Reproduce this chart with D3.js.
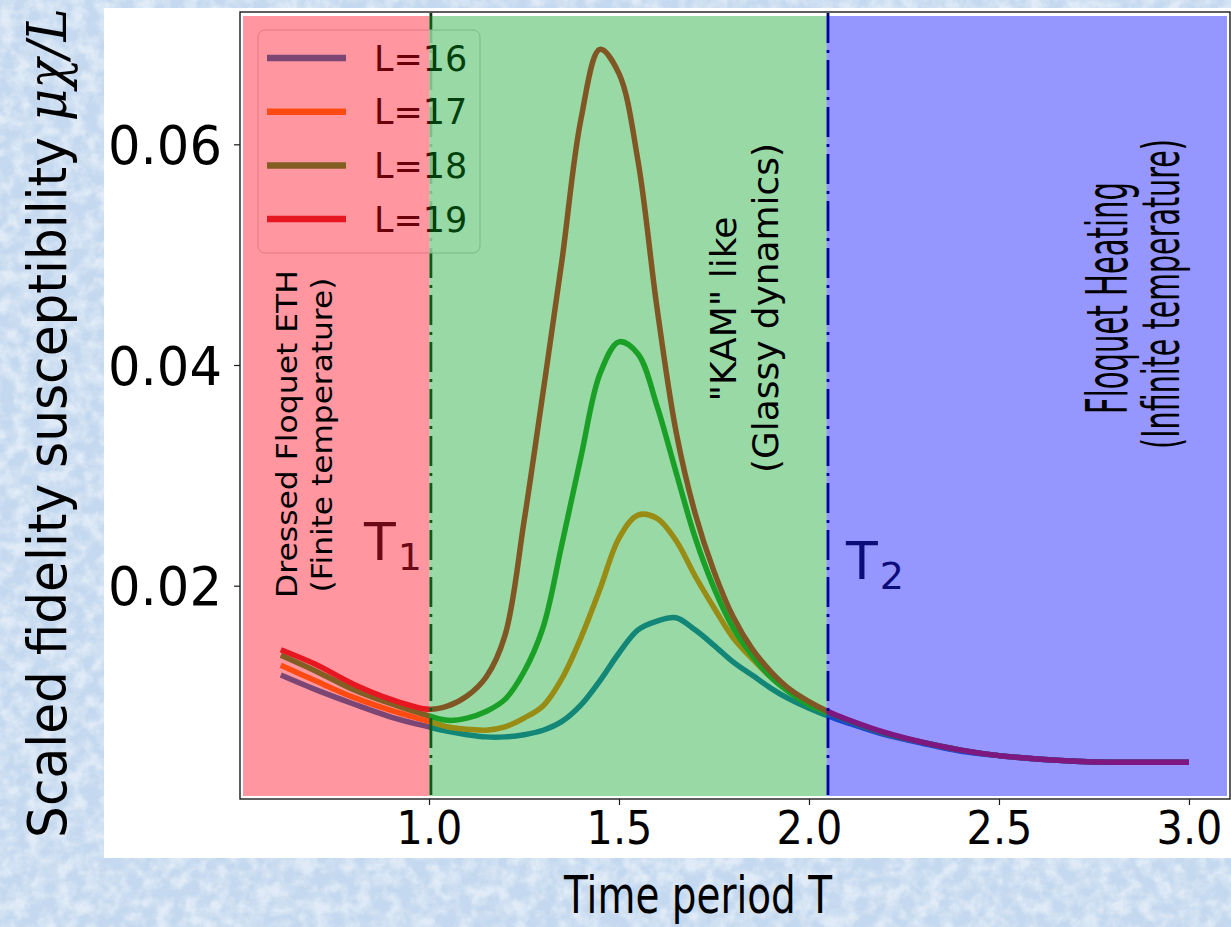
<!DOCTYPE html>
<html>
<head>
<meta charset="utf-8">
<script src="https://cdn.jsdelivr.net/npm/d3@7"></script>
<style>
  html, body { margin: 0; padding: 0; background: #cfe0f3; }
  svg { display: block; }
</style>
</head>
<body>
<svg id="chart" width="1231" height="927"></svg>
<script>
// ---- data -------------------------------------------------------------
const periods = [0.61, 0.7, 0.8, 0.9, 1.0, 1.05, 1.1, 1.15, 1.2, 1.25, 1.3, 1.35, 1.4, 1.45,
                 1.5, 1.55, 1.6, 1.65, 1.7, 1.75, 1.8, 1.85, 1.9, 1.95, 2.0, 2.05, 2.1,
                 2.2, 2.3, 2.4, 2.5, 2.6, 2.7, 2.8, 2.9, 3.0];

const chiL16 = [0.0119, 0.0106, 0.0093, 0.0081, 0.0072, 0.0068, 0.0065, 0.0063, 0.0063, 0.0065,
                0.0069, 0.0077, 0.0092, 0.0114, 0.0139, 0.0160, 0.0168, 0.0171, 0.0160, 0.0146,
                0.0131, 0.0119, 0.0107, 0.0097, 0.0089, 0.0082, 0.0076, 0.0065, 0.0057, 0.0050,
                0.0046, 0.0043, 0.0041, 0.0040, 0.0040, 0.0040];
const chiL17 = [0.0128, 0.0114, 0.0099, 0.0087, 0.0077, 0.0072, 0.0070, 0.0069, 0.0072, 0.0080,
                0.0091, 0.0116, 0.0153, 0.0197, 0.0243, 0.0264, 0.0261, 0.0241, 0.0209, 0.0180,
                0.0153, 0.0134, 0.0117, 0.0104, 0.0093, 0.0085, 0.0078, 0.0066, 0.0058, 0.0051,
                0.0046, 0.0043, 0.0041, 0.0040, 0.0040, 0.0040];
const chiL18 = [0.0137, 0.0123, 0.0106, 0.0093, 0.0082, 0.0078, 0.0080, 0.0086, 0.0097, 0.0122,
                0.0162, 0.0238, 0.0317, 0.0392, 0.0421, 0.0410, 0.0363, 0.0303, 0.0244, 0.0198,
                0.0162, 0.0137, 0.0117, 0.0103, 0.0092, 0.0085, 0.0078, 0.0066, 0.0058, 0.0051,
                0.0046, 0.0043, 0.0041, 0.0040, 0.0040, 0.0040];
const chiL19 = [0.0142, 0.0129, 0.0111, 0.0097, 0.0088, 0.0091, 0.0100, 0.0117, 0.0155, 0.0258,
                0.0375, 0.0495, 0.0623, 0.0686, 0.0664, 0.0585, 0.0452, 0.0340, 0.0266, 0.0213,
                0.0172, 0.0143, 0.0122, 0.0106, 0.0095, 0.0086, 0.0079, 0.0067, 0.0058, 0.0051,
                0.0046, 0.0043, 0.0041, 0.0040, 0.0040, 0.0040];

const seriesNames  = ["L=16", "L=17", "L=18", "L=19"];
const seriesValues = [chiL16, chiL17, chiL18, chiL19];
const seriesColors = ["#1f77b4", "#ff7f0e", "#2ca02c", "#d62728"];

const xTicks = [1.0, 1.5, 2.0, 2.5, 3.0];
const yTicks = [0.02, 0.04, 0.06];

// crossover periods between the three dynamical regimes
const T1 = 1.005;
const T2 = 2.05;

// ---- layout -----------------------------------------------------------
const W = 1231, H = 927;
const frame = { left: 240, right: 1230, top: 12, bottom: 799 };
const FONT = "DejaVu Sans, Verdana, sans-serif";

const svg = d3.select("#chart");
const defs = svg.append("defs");

// mottled light-blue slide background
const mottle = defs.append("filter").attr("id", "mottle")
  .attr("x", 0).attr("y", 0).attr("width", "100%").attr("height", "100%");
mottle.append("feTurbulence").attr("type", "fractalNoise")
  .attr("baseFrequency", "0.07").attr("numOctaves", 4).attr("seed", 11);
mottle.append("feColorMatrix").attr("type", "matrix")
  .attr("values", "0 0 0 0 1  0 0 0 0 1  0 0 0 0 1  0 0 0 -2.4 1.55");

svg.append("rect").attr("width", W).attr("height", H).attr("fill", "#c4d8ef");
svg.append("rect").attr("width", W).attr("height", H).attr("filter", "url(#mottle)").attr("opacity", 0.5);

// white figure panel
svg.append("rect").attr("x", 104).attr("y", 8).attr("width", W - 104).attr("height", 850).attr("fill", "#ffffff");

// ---- scales -----------------------------------------------------------
const x = d3.scaleLinear().domain([0.5026, 3.108]).range([frame.left, frame.right]);
const y = d3.scaleLinear().domain([0.00067, 0.07199]).range([frame.bottom, frame.top]);

// ---- curves -----------------------------------------------------------
const line = d3.line()
  .x(d => x(d[0]))
  .y(d => y(d[1]))
  .curve(d3.curveCatmullRom.alpha(0.5));

const plot = svg.append("g");
seriesValues.forEach((vals, i) => {
  plot.append("path")
    .datum(periods.map((t, k) => [t, vals[k]]))
    .attr("d", line)
    .attr("fill", "none")
    .attr("stroke", seriesColors[i])
    .attr("stroke-width", 5.5)
    .attr("stroke-linejoin", "round");
});

// ---- crossover markers (dash-dot) ------------------------------------
[[T1, "#0b3512"], [T2, "#00006a"]].forEach(([t, c]) => {
  plot.append("line")
    .attr("x1", x(t)).attr("x2", x(t))
    .attr("y1", frame.top + 1).attr("y2", frame.bottom)
    .attr("stroke", c).attr("stroke-width", 2.8)
    .attr("stroke-dasharray", "30,7,3,7");
});

// ---- legend -----------------------------------------------------------
const legend = svg.append("g").attr("transform", "translate(258,30)");
legend.append("rect")
  .attr("width", 222).attr("height", 223).attr("rx", 7)
  .attr("fill", "#ffffff").attr("fill-opacity", 0.8)
  .attr("stroke", "#cccccc").attr("stroke-width", 1);
seriesNames.forEach((name, i) => {
  const cy = 28 + i * 53.7;
  legend.append("line")
    .attr("x1", 9).attr("x2", 88).attr("y1", cy).attr("y2", cy)
    .attr("stroke", seriesColors[i]).attr("stroke-width", 6.5);
  legend.append("text")
    .attr("x", 116).attr("y", cy + 12.5)
    .attr("font-family", FONT).attr("font-size", 35)
    .attr("fill", "#000").text(name);
});

// ---- translucent regime shading (lies over curves and legend) --------
const inset = 3;
const regions = [
  { from: x.domain()[0], to: T1, color: "rgba(255,0,24,0.41)" },
  { from: T1, to: T2, color: "rgba(0,160,30,0.40)" },
  { from: T2, to: x.domain()[1], color: "rgba(0,0,255,0.41)" }
];
regions.forEach((r, i) => {
  const x0 = i === 0 ? frame.left + inset : x(r.from) - 1.5;
  const x1 = i === regions.length - 1 ? frame.right - inset : x(r.to) - 1.5;
  svg.append("rect")
    .attr("x", x0).attr("y", frame.top + 4)
    .attr("width", x1 - x0).attr("height", frame.bottom - frame.top - 7)
    .attr("fill", r.color);
});

// ---- axes frame and ticks --------------------------------------------
svg.append("rect")
  .attr("x", frame.left).attr("y", frame.top)
  .attr("width", frame.right - frame.left).attr("height", frame.bottom - frame.top)
  .attr("fill", "none").attr("stroke", "#1a1a1a").attr("stroke-width", 1.4);

const xAxis = svg.append("g")
  .attr("transform", `translate(0,${frame.bottom})`)
  .call(d3.axisBottom(x).tickValues(xTicks).tickFormat(d3.format(".1f")).tickSize(6));
xAxis.select(".domain").remove();
xAxis.selectAll(".tick line").attr("stroke", "#1a1a1a").attr("stroke-width", 1.2);
xAxis.selectAll(".tick text")
  .attr("font-family", FONT).attr("font-size", 46).attr("fill", "#000")
  .attr("dy", null).attr("y", 0)
  .each(function () {
    d3.select(this).attr("transform", "translate(0,45) scale(0.9,1)");
  });

const yAxis = svg.append("g")
  .attr("transform", `translate(${frame.left},0)`)
  .call(d3.axisLeft(y).tickValues(yTicks).tickFormat(d3.format(".2f")).tickSize(6));
yAxis.select(".domain").remove();
yAxis.selectAll(".tick line").attr("stroke", "#1a1a1a").attr("stroke-width", 1.2);
yAxis.selectAll(".tick text")
  .attr("font-family", FONT).attr("font-size", 53).attr("fill", "#000")
  .attr("x", 0).attr("dy", null)
  .each(function () {
    const w = this.getComputedTextLength();
    d3.select(this).attr("transform", `translate(-18,${0.364 * 53}) scale(${114 / w},1)`);
  });

// ---- text helper: anchored, optionally rotated, stretched to a length --
function label(opts) {
  const g = svg.append("g")
    .attr("transform", `translate(${opts.x},${opts.y}) rotate(${opts.rotate || 0})`);
  const t = g.append("text")
    .attr("text-anchor", opts.anchor || "middle")
    .attr("font-family", opts.family || FONT)
    .attr("font-size", opts.size)
    .attr("fill", opts.fill || "#000");
  (Array.isArray(opts.text) ? opts.text : [{ s: opts.text }]).forEach(part => {
    const sp = t.append("tspan").text(part.s);
    if (part.family) sp.attr("font-family", part.family);
    if (part.style) sp.attr("font-style", part.style);
    if (part.size) sp.attr("font-size", part.size);
    if (part.dy) sp.attr("dy", part.dy);
    if (part.dx) sp.attr("dx", part.dx);
  });
  if (opts.length) {
    const w = t.node().getComputedTextLength();
    t.attr("transform", `scale(${opts.length / w},1)`);
  }
  return t;
}

// axis titles
label({ x: 698, y: 913, size: 52, length: 268, text: "Time period T" });
label({
  x: 66, y: 423, rotate: -90, size: 54, length: 830,
  text: [
    { s: "Scaled fidelity susceptibility " },
    { s: "μχ/L", family: "DejaVu Serif, serif", style: "italic" }
  ]
});

// regime annotations
label({ x: 297, y: 434, rotate: -90, size: 29, length: 328, text: "Dressed Floquet ETH" });
label({ x: 332, y: 435, rotate: -90, size: 29, length: 315, text: "(Finite temperature)" });
label({ x: 736, y: 309, rotate: -90, size: 36, length: 185, text: "\"KAM\" like" });
label({ x: 778, y: 308, rotate: -90, size: 36, length: 330, text: "(Glassy dynamics)" });
label({ x: 1127, y: 298, rotate: -90, size: 57, length: 232, text: "Floquet Heating" });
label({ x: 1179, y: 294, rotate: -90, size: 51, length: 310, text: "(Infinite temperature)" });

// crossover labels
label({ x: 364, y: 560, anchor: "start", size: 52, fill: "#6b0a16",
        text: [{ s: "T" }, { s: "1", size: 38, dy: 10, dx: 2 }] });
label({ x: 846, y: 579, anchor: "start", size: 52, fill: "#0c0c7a",
        text: [{ s: "T" }, { s: "2", size: 38, dy: 10, dx: 2 }] });
</script>
</body>
</html>
